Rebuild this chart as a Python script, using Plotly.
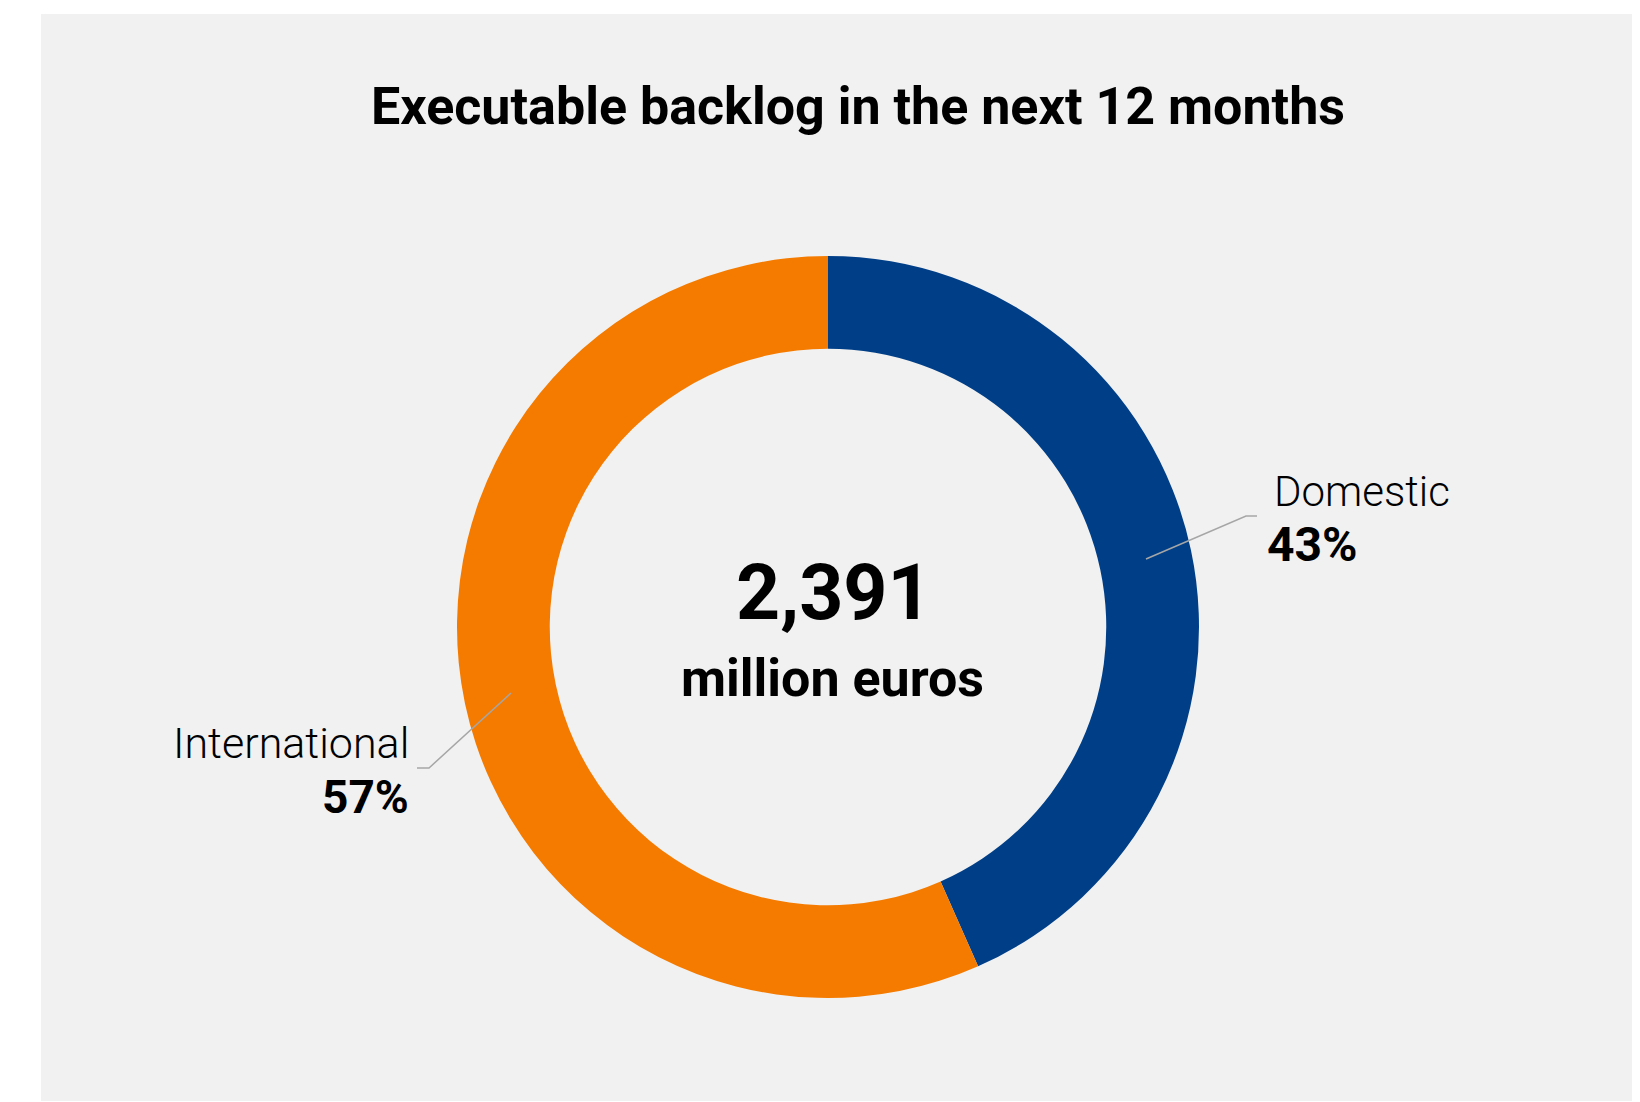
import plotly.graph_objects as go

W, H = 1640, 1102
OFF = 8  # default page body margin

categories = ["Domestic", "International"]
values_meur = [1037, 1354]
colors = ["#003F87", "#F47B00"]
total_unit = "million euros"
title_text = "Executable backlog in the next 12 months"

total = sum(values_meur)
pcts = [round(100 * v / total) for v in values_meur]
total_value = f"{total:,}"

def px(x):
    return (x - OFF) / W

def py(y):
    return 1 - (y - OFF) / H

cx, cy, R = 828, 627, 371

fig = go.Figure()
fig.add_trace(go.Pie(
    labels=categories,
    values=values_meur,
    marker=dict(colors=colors, line=dict(width=0)),
    hole=0.75,
    sort=False,
    direction="clockwise",
    rotation=0,
    textinfo="none",
    hoverinfo="label+percent",
    showlegend=False,
    domain=dict(x=[px(cx - R), px(cx + R)], y=[py(cy + R), py(cy - R)]),
))

FONT = "Roboto"
LINE = "#A6A6A6"

shapes = [
    dict(type="rect", xref="paper", yref="paper", x0=px(41), x1=1.0, y0=py(1101), y1=py(14),
         fillcolor="#F1F1F1", line=dict(width=0), layer="below"),
    dict(type="path", xref="paper", yref="paper",
         path=f"M {px(1146)},{py(559)} L {px(1246)},{py(516)} L {px(1257)},{py(516)}",
         line=dict(color=LINE, width=1.5)),
    dict(type="path", xref="paper", yref="paper",
         path=f"M {px(511)},{py(693)} L {px(429)},{py(768)} L {px(417)},{py(768)}",
         line=dict(color=LINE, width=1.5)),
]

annotations = [
    dict(text=f"<b>{title_text}</b>", x=px(858), y=py(107), xanchor="center", yanchor="middle",
         font=dict(family=FONT, size=52, color="#000000")),
    dict(text=f"<b>{total_value}</b>", x=px(834), y=py(593), xanchor="center", yanchor="middle",
         font=dict(family=FONT, size=77, color="#000000")),
    dict(text=f"<b>{total_unit}</b>", x=px(832), y=py(678), xanchor="center", yanchor="middle",
         font=dict(family=FONT, size=52, color="#000000")),
    dict(text=categories[0], x=px(1272), y=py(491), xanchor="left", yanchor="middle",
         font=dict(family=FONT, size=42, color="#000000", weight=300)),
    dict(text=f"<b>{pcts[0]}%</b>", x=px(1265), y=py(544), xanchor="left", yanchor="middle",
         font=dict(family=FONT, size=48, color="#000000")),
    dict(text=categories[1], x=px(411), y=py(743), xanchor="right", yanchor="middle",
         font=dict(family=FONT, size=43, color="#000000", weight=300)),
    dict(text=f"<b>{pcts[1]}%</b>", x=px(411), y=py(797), xanchor="right", yanchor="middle",
         font=dict(family=FONT, size=46, color="#000000")),
]
for a in annotations:
    a.update(xref="paper", yref="paper", showarrow=False)

fig.update_layout(
    width=W, height=H,
    margin=dict(l=0, r=0, t=0, b=0),
    paper_bgcolor="#FFFFFF",
    plot_bgcolor="#FFFFFF",
    shapes=shapes,
    annotations=annotations,
)

fig.write_html("out.html")
